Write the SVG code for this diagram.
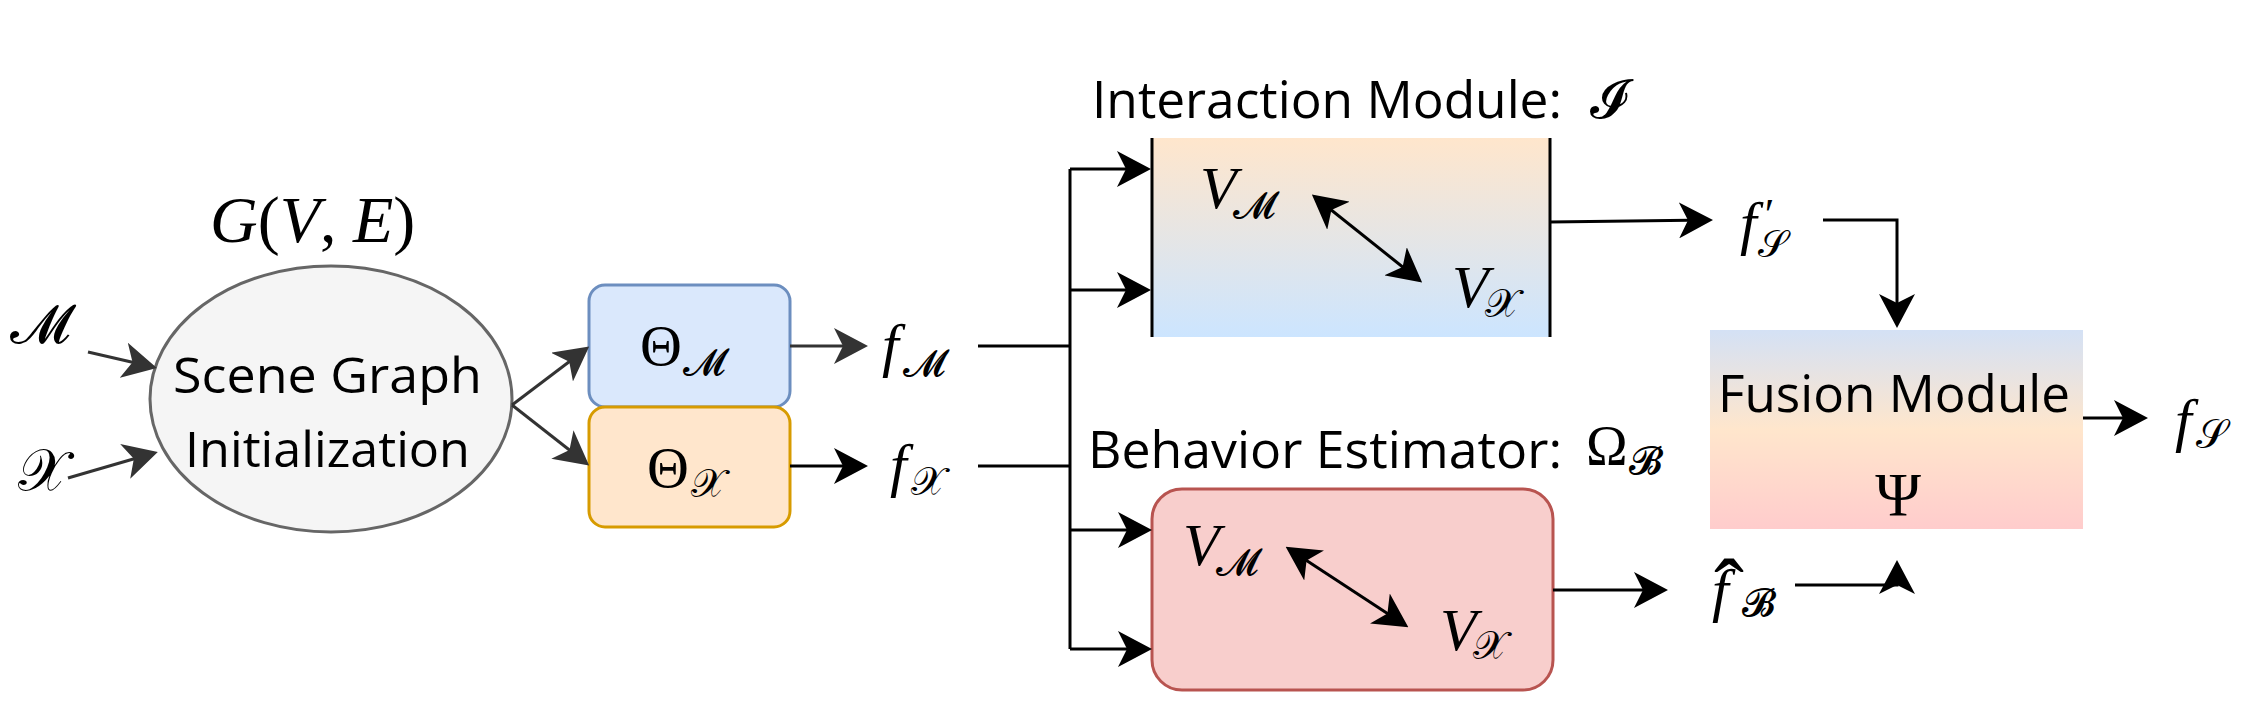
<svg xmlns="http://www.w3.org/2000/svg" width="2264" height="724" viewBox="0 0 2264 724">
<style>
.sans{font-family:"Open Sans","Liberation Sans",sans-serif;font-weight:500;fill:#000}
.m{font-family:"Liberation Serif","DejaVu Serif",serif;font-style:normal;fill:#000}
.mi{font-family:"Liberation Serif","DejaVu Serif",serif;font-style:italic;fill:#000}
.cal{font-family:"DejaVu Serif","DejaVu Sans",serif;font-style:normal;fill:#000}
.ln{fill:none;stroke:#000;stroke-width:3}
.lg{fill:none;stroke:#333;stroke-width:3}
</style>
<defs>
<marker id="ah" viewBox="0 0 34 36" refX="30" refY="18" markerWidth="34" markerHeight="36" markerUnits="userSpaceOnUse" orient="auto-start-reverse">
<path d="M0,0 L34,18 L0,36 L9,18 Z" fill="#000"/>
</marker>
<marker id="ahg" viewBox="0 0 34 36" refX="30" refY="18" markerWidth="34" markerHeight="36" markerUnits="userSpaceOnUse" orient="auto-start-reverse">
<path d="M0,0 L34,18 L0,36 L9,18 Z" fill="#333"/>
</marker>
<linearGradient id="gInt" x1="0" y1="0" x2="0" y2="1">
<stop offset="0" stop-color="#ffe6cc"/>
<stop offset="1" stop-color="#cce5ff"/>
</linearGradient>
<linearGradient id="gFus" x1="0" y1="0" x2="0" y2="1">
<stop offset="0" stop-color="#d4e1f5"/>
<stop offset="0.5" stop-color="#ffe6cc"/>
<stop offset="1" stop-color="#ffcccc"/>
</linearGradient>
</defs>

<g id="input-M"><text class="cal" x="10" y="343" font-size="54">𝓜</text></g>
<g id="input-X"><text class="cal" x="18" y="490" font-size="58">𝒳</text></g>

<g id="scene-graph">
<text x="210" y="242" font-size="66"><tspan class="mi">G</tspan><tspan class="m">(</tspan><tspan class="mi">V</tspan><tspan class="m">, </tspan><tspan class="mi">E</tspan><tspan class="m">)</tspan></text>
<ellipse cx="331" cy="399" rx="181" ry="133" fill="#f5f5f5" stroke="#666" stroke-width="3"/>
<text class="sans" x="173" y="393" font-size="50" textLength="309" lengthAdjust="spacingAndGlyphs">Scene Graph</text>
<text class="sans" x="185" y="467" font-size="50" textLength="285" lengthAdjust="spacingAndGlyphs">Initialization</text>
</g>

<g id="theta-M">
<rect x="589" y="285" width="201" height="122" rx="16" fill="#dae8fc" stroke="#6c8ebf" stroke-width="3"/>
<text class="m" x="640" y="365" font-size="58">Θ<tspan class="cal" font-size="38" dx="1" dy="10">𝓜</tspan></text>
</g>
<g id="theta-X">
<rect x="589" y="407" width="201" height="120" rx="16" fill="#ffe6cc" stroke="#d79b00" stroke-width="3"/>
<text class="m" x="647" y="487" font-size="58">Θ<tspan class="cal" font-size="40" dx="2" dy="10">𝒳</tspan></text>
</g>

<g id="f-M"><text class="mi" x="882" y="365" font-size="60">f<tspan class="cal" font-size="38" dx="4" dy="11">𝓜</tspan></text></g>
<g id="f-X"><text class="mi" x="890" y="485" font-size="60">f<tspan class="cal" font-size="40" dx="4" dy="10">𝒳</tspan></text></g>

<g id="interaction-module">
<text class="sans" x="1092" y="118" font-size="52" textLength="470" lengthAdjust="spacingAndGlyphs">Interaction Module:</text>
<text class="cal" x="1590" y="118" font-size="54">𝓘</text>
<rect x="1152" y="138" width="398" height="199" fill="url(#gInt)"/>
<path class="ln" d="M1152,138 V337 M1550,138 V337"/>
<text class="mi" x="1200" y="208" font-size="60">V<tspan class="cal" font-size="38" dx="-4" dy="10">𝓜</tspan></text>
<text class="mi" x="1452" y="307" font-size="60">V<tspan class="cal" font-size="40" dx="-4" dy="10">𝒳</tspan></text>
</g>

<g id="behavior-estimator">
<text class="sans" x="1088" y="468" font-size="52" textLength="474" lengthAdjust="spacingAndGlyphs">Behavior Estimator:</text>
<text class="m" x="1586" y="465" font-size="56">Ω<tspan class="cal" font-size="38" dx="1" dy="9">𝓑</tspan></text>
<rect x="1152" y="489" width="401" height="201" rx="30" fill="#f8cecc" stroke="#b85450" stroke-width="3"/>
<text class="mi" x="1183" y="565" font-size="60">V<tspan class="cal" font-size="38" dx="-4" dy="10">𝓜</tspan></text>
<text class="mi" x="1440" y="650" font-size="60">V<tspan class="cal" font-size="40" dx="-4" dy="9">𝒳</tspan></text>
</g>

<g id="f-S-prime"><text class="mi" x="1740" y="243" font-size="60">f<tspan class="m" font-size="44" dx="8" dy="-14">′</tspan><tspan class="cal" font-size="38" dx="-16" dy="28">𝒮</tspan></text></g>

<g id="fusion-module">
<rect x="1710" y="330" width="373" height="199" fill="url(#gFus)"/>
<text class="sans" x="1718" y="412" font-size="52" textLength="352" lengthAdjust="spacingAndGlyphs">Fusion Module</text>
<text class="m" x="1898" y="515" font-size="62" text-anchor="middle">Ψ</text>
</g>

<g id="f-S"><text class="mi" x="2175" y="440" font-size="60">f<tspan class="cal" font-size="40" dx="4" dy="8">𝒮</tspan></text></g>

<g id="f-B-hat"><text class="mi" x="1712" y="610" font-size="60">f<tspan class="m" x="1714" y="622" font-size="90">ˆ</tspan><tspan class="cal" x="1742" y="616" font-size="38">𝓑</tspan></text></g>

<g id="connectors">
<path class="lg" d="M88,352 L153,367" marker-end="url(#ahg)"/>
<path class="lg" d="M68,478 L154,453" marker-end="url(#ahg)"/>
<path class="lg" d="M512,405 L586,349" marker-end="url(#ahg)"/>
<path class="lg" d="M512,405 L586,463" marker-end="url(#ahg)"/>
<path class="lg" d="M790,346 L864,346" marker-end="url(#ahg)"/>
<path class="ln" d="M790,466 L864,466" marker-end="url(#ah)"/>
<path class="ln" d="M978,346 H1070"/>
<path class="ln" d="M978,466 H1070"/>
<path class="ln" d="M1070,169 V649"/>
<path class="ln" d="M1070,169 H1147" marker-end="url(#ah)"/>
<path class="ln" d="M1070,290 H1147" marker-end="url(#ah)"/>
<path class="ln" d="M1070,530 H1148" marker-end="url(#ah)"/>
<path class="ln" d="M1070,649 H1148" marker-end="url(#ah)"/>
<path class="ln" d="M1315,197 L1419,280" marker-start="url(#ah)" marker-end="url(#ah)"/>
<path class="ln" d="M1289,549 L1405,625" marker-start="url(#ah)" marker-end="url(#ah)"/>
<path class="ln" d="M1550,222 L1709,220" marker-end="url(#ah)"/>
<path class="ln" d="M1823,220 H1897 V324" marker-end="url(#ah)"/>
<path class="ln" d="M2083,418 H2144" marker-end="url(#ah)"/>
<path class="ln" d="M1553,590 H1664" marker-end="url(#ah)"/>
<path class="ln" d="M1795,585 H1897 V564" marker-end="url(#ah)"/>
</g>
</svg>
